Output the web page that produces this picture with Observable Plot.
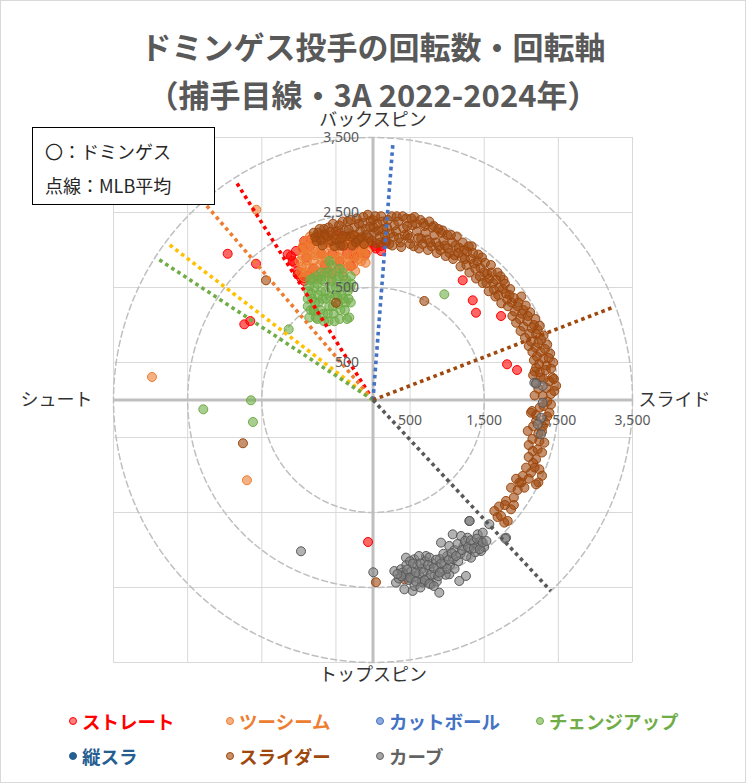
<!DOCTYPE html>
<html>
<head>
<meta charset="utf-8">
<script src="https://cdn.jsdelivr.net/npm/d3@7"></script>
<script src="https://cdn.jsdelivr.net/npm/@observablehq/plot@0.6"></script>
<style>
  html, body { margin: 0; padding: 0; background: #fff; }
  body { position: relative; width: 746px; height: 783px; overflow: hidden;
         font-family: "Noto Sans CJK JP", "Noto Sans", sans-serif; }
  #frame { position: absolute; left: 0; top: 0; width: 746px; height: 783px;
           box-sizing: border-box; border: 1px solid #d9d9d9; pointer-events: none; }
  .title { position: absolute; left: 0; width: 746px; text-align: center; color: #595959;
           font-weight: bold; font-size: 31px; line-height: 32px; white-space: nowrap; }
  #chart { position: absolute; left: 0; top: 108px; }
  #note { position: absolute; left: 32px; top: 127px; width: 183px; height: 78px;
          box-sizing: border-box; border: 1px solid #000; background: #fff; }
  #note div { position: absolute; left: 12px; font-size: 18px; line-height: 22px; color: #262626; white-space: nowrap; }
  .leg { position: absolute; display: flex; align-items: center; white-space: nowrap;
         font-weight: bold; font-size: 18.5px; line-height: 22px; }
  .leg span.m { display: inline-block; width: 8px; height: 8px; border-radius: 50%;
                box-sizing: border-box; border: 1px solid; margin-right: 5px; }
</style>
</head>
<body>
<div class="title" style="top:30px">ドミンゲス投手の回転数・回転軸</div>
<div class="title" style="top:78px">（捕手目線・3A 2022-2024年）</div>
<div id="chart"></div>
<div id="note">
  <div style="top:12px">〇：ドミンゲス</div>
  <div style="top:46px">点線：MLB平均</div>
</div>
<div id="legend"></div>
<div id="frame"></div>
<script>
// ---------- data (spin rate components, catcher's view) ----------
const gridVals = [-3500, -2500, -1500, -500, 500, 1500, 2500, 3500];
const tickVals = [500, 1500, 2500, 3500];
const ringRadii = [1500, 2500, 3500];

const pitchNames = ["ストレート", "ツーシーム", "カットボール", "チェンジアップ", "縦スラ", "スライダー", "カーブ"];
const pitchColors = ["#ff0000", "#ed7d31", "#4472c4", "#70ad47", "#255e91", "#9e480e", "#636363"];

// MLB average spin axis endpoints (dotted lines)
const avgNames = ["ストレート", "ツーシーム", "(黄)", "チェンジアップ", "カットボール", "スライダー", "カーブ"];
const avgX = [-1846, -2251, -2776, -2898, 270, 3248, 2399];
const avgY = [2907, 2600, 2093, 1880, 3440, 1240, -2547];
const avgColors = ["#ff0000", "#ed7d31", "#ffc000", "#70ad47", "#4472c4", "#9e480e", "#595959"];

const straight = [
  [-927,2120],[-948,2030],[-1039,1987],[-1106,1920],[-1061,1830],[-1016,1720],[-971,1630],[-927,1587],
  [-881,1653],[-836,2142],[-657,2209],[-409,2186],[-297,2075],[-162,2053],[-162,1964],[18,2053],[108,2053],
  [175,2097],[-1151,1942],[-1083,1853],[-1016,1676],[-927,1630],[-297,1786],[-256,1942],[40,2020],[108,1987],
  [-900,1900],[-850,2050],[-800,1750],[-750,2150],[-700,1950],[-650,1800],[-600,2100],[-550,1950],[-500,2200],
  [-450,1850],[-400,2050],[-350,1950],[-300,2150],[-250,1900],[-200,2050],[-150,2150],[-100,1950],[-50,2100],
  [-1960,1950],[-1578,1817],[-1736,1009],[-1655,1053],[1210,1596],[1345,1329],[1389,1164],[1727,1120],
  [1808,476],[1943,400],[-67,-1893]
];
const twoSeam = [
  [-980,1700],[-990,1850],[-970,2000],[-930,1640],[-920,2120],[-900,1780],[-880,1950],[-850,2180],[-830,1620],
  [-800,1850],[-790,2060],[-760,1720],[-740,1960],[-720,2190],[-700,1650],[-680,1850],[-660,2080],[-620,1750],
  [-600,1950],[-580,2190],[-550,1700],[-530,1870],[-500,2050],[-470,1800],[-450,2180],[-420,1950],[-400,1750],
  [-380,2100],[-340,1880],[-320,2000],[-300,2200],[-270,1800],[-250,2080],[-220,1950],[-180,2150],[-160,1850],
  [-130,2030],[-110,1920],[-90,2100],
  [-960,1780],[-950,1920],[-940,2060],[-910,1700],[-890,1860],[-870,2030],[-860,1680],[-840,1940],[-820,2100],
  [-810,1760],[-780,1930],[-770,2150],[-740,1620],[-720,1800],[-710,2040],[-690,1940],[-650,1700],[-640,1900],
  [-630,2150],[-600,1820],[-570,2050],[-560,1620],[-520,1960],[-510,2140],[-490,1720],[-460,1900],[-430,2080],
  [-400,1650],[-380,1850],[-350,2170],[-330,1780],[-310,2080],[-280,1920],[-240,1720],[-230,2180],[-200,1880],
  [-190,2030],[-150,1980],[-120,2150],[-100,1830],[-80,1980],
  [-1574,2537],[-2981,307],[-1700,-1070]
];
const change = [
  [-880,1250],[-870,1450],[-860,1100],[-850,1600],[-820,1350],[-800,1200],[-790,1500],[-760,1650],[-750,1080],
  [-730,1300],[-700,1450],[-690,1700],[-670,1150],[-650,1580],[-630,1350],[-600,1050],[-590,1250],[-570,1500],
  [-560,1680],[-530,1150],[-510,1400],[-490,1600],[-470,1280],[-450,1080],[-430,1500],[-410,1700],[-400,1350],
  [-380,1200],[-360,1600],[-340,1450],[-320,1100],[-300,1300],[-290,1550],
  [-880,1350],[-860,1520],[-840,1200],[-830,1420],[-810,1620],[-780,1300],[-770,1100],[-750,1550],[-740,1400],
  [-710,1200],[-700,1600],[-680,1350],[-660,1050],[-640,1450],[-620,1700],[-610,1150],[-580,1380],[-560,1580],
  [-540,1250],[-520,1050],[-500,1500],[-480,1380],[-460,1650],[-440,1200],[-420,1400],[-390,1550],[-370,1300],
  [-350,1080],[-330,1350],[-310,1500],[-300,1650],[-560,1800],[-450,1750],
  [-589,1853],[-796,1187],
  [-1137,942],[-1646,-4],[-2289,-124],[-1619,-293],[962,1409]
];
const slider = [
  [-800,2230],[-760,2120],[-720,2280],[-680,2060],[-650,2200],[-600,2300],[-560,2120],[-520,2050],[-500,2250],
  [-460,2330],[-430,2150],[-400,2060],[-380,2260],[-340,2380],[-300,2180],[-280,2060],[-250,2300],[-220,2420],
  [-200,2140],[-170,2250],[-140,2360],[-120,2080],[-90,2200],[-70,2470],[-40,2310],[-20,2120],[0,2400],[20,2230],
  [40,2090],[60,2350],[90,2180],[110,2450],[140,2280],[170,2120],[200,2400],[230,2220],[260,2060],[290,2330],
  [320,2450],[350,2160],[380,2040],[410,2290],[450,2420],[470,2200],[500,2080],[530,2330],[560,2440],[590,2250],
  [620,2020],[650,2150],[680,2360],[710,2230],[740,2000],[770,2100],[800,2300],[830,2200],[860,1960],[890,2050],
  [920,2230],[950,2130],[980,1920],[1010,2020],[1050,2200],[1080,1880],[1110,2060],[1150,1960],[1180,1780],
  [1210,2100],[1240,1880],[1270,1980],[1300,1700],[1330,2050],[1360,1820],[1390,1620],[1420,1940],[1450,1760],
  [1480,1560],[1510,1830],[1540,1680],[1560,1450],[1590,1800],[1620,1560],[1650,1380],[1680,1700],[1700,1500],
  [1730,1290],[1760,1600],[1790,1420],[1850,1480],[1820,1250],[1900,1360],[1880,1120],[1950,1250],[1930,1030],
  [2000,1380],[2010,1150],[2060,1260],[1990,920],[2080,1050],[2120,1170],[2050,830],[2140,960],[2190,1080],
  [2100,720],[2200,880],[2250,990],[2150,640],[2230,760],[2300,860],[2170,530],[2260,640],[2350,740],[2200,430],
  [2300,550],[2390,620],[2160,330],[2250,370],[2340,460],[2430,500],[2200,230],[2300,280],[2420,300],[2470,190],
  [2446,120],[2289,53],[2379,-169],[2131,-169],[2087,-413],[2244,-547],[2311,-569],[2154,-680],[2199,-791],
  [2244,-924],[2064,-902],[2131,-969],[2019,-1013],[1974,-1102],[2042,-1169],[1862,-1169],[2199,-1124],
  [1794,-1346],[1862,-1457],[1637,-1480],[1727,-1546],[1771,-1635],[1817,-1613],[2350,-20],[2250,-100],
  [2400,-60],[2200,-280],[2320,-300],[2280,-420],[2150,-520],[2220,-660],[2100,-760],[2160,-840],[2280,-1010],
  [1950,-1200],[1900,-1300],[1700,-1420],[2145,-147],
  [-780,2170],[-740,2230],[-700,2130],[-660,2280],[-620,2180],[-580,2240],[-540,2350],[-500,2140],[-470,2260],
  [-440,2060],[-410,2380],[-370,2180],[-330,2270],[-300,2400],[-260,2200],[-230,2100],[-190,2350],[-160,2170],
  [-130,2440],[-100,2280],[-60,2160],[-30,2390],[10,2300],[30,2450],
  [70,2260],[100,2100],[130,2380],[160,2200],[190,2300],[220,2080],[250,2450],[280,2180],[310,2250],[340,2380],
  [370,2100],[400,2450],[430,2200],[460,2320],[490,2160],[520,2420],[550,2050],[580,2350],[610,2160],[640,2400],
  [670,2080],[700,2320],[730,2140],[760,2380],[790,2050],[820,2320],[850,2100],[880,2280],[910,2000],
  [940,2260],[970,2060],[1000,2200],[1030,1960],[1070,2100],[1100,1930],[1130,2180],[1160,2030],[1200,1900],
  [1230,2000],[1260,1800],[1290,2050],[1320,1880],[1350,1960],[1380,1750],[1410,1850],[1440,1650],[1470,1900],
  [1500,1700],[1530,1560],[1570,1620],[1600,1700],[1630,1470],[1660,1600],[1690,1400],[1720,1650],[1750,1480],
  [1780,1550],[1810,1340],
  [1840,1400],[1870,1300],[1910,1180],[1960,1300],[1980,1080],[2030,1200],[2030,980],[2090,1120],[2110,880],
  [2170,1000],[2130,780],[2220,940],[2190,700],[2270,800],[2210,580],[2320,680],[2240,480],[2370,560],[2180,380],
  [2330,400],[2400,420],[2260,300],[2380,250],[2440,280],[2230,150],[2340,160],[2400,80],[2180,60],[2300,-80],
  [2200,-200],[2350,-220],[2160,-350],[2290,-350],[2230,-450],[2100,-600],[2280,-700],[2180,-900],[2100,-1050],
  [2230,-1100],[2000,-1100],[1930,-1050],[1900,-1400],[1780,-1400],[1680,-1560],
  [-1443,1596],[-499,1297],[692,1320],[-1754,-577],[40,-2430],[423,-2390]
];
const curve = [
  [288,-2280],[310,-2435],[423,-2524],[535,-2546],[445,-2102],[557,-2124],[715,-2080],[917,-1902],[1029,-1946],
  [1075,-1791],[1187,-1813],[1277,-1836],[1299,-1613],[1412,-1791],[1480,-1769],[1457,-2013],[1322,-2102],
  [1164,-2413],[1254,-2346],[894,-2569],[782,-2457],[670,-2435],[1029,-2324],[378,-2257],[468,-2368],[1569,-1657],
  [1794,-1836],
  [400,-2300],[450,-2200],[480,-2400],[520,-2280],[560,-2350],[600,-2200],[620,-2320],[660,-2250],[700,-2150],
  [720,-2380],[760,-2260],[800,-2180],[830,-2330],[870,-2220],[900,-2120],[930,-2280],[960,-2190],[1000,-2080],
  [1040,-2200],[1080,-2120],[1100,-2000],[1150,-2150],[1180,-2050],[1220,-1950],[1260,-2080],[1300,-1980],
  [1350,-1900],[1380,-2030],[1420,-1940],[1460,-1880],[1500,-1960],[350,-2380],[560,-2480],[660,-2420],
  [860,-2420],[980,-2330],[760,-2100],[620,-2080],[500,-2150],
  [420,-2330],[460,-2260],[500,-2370],[540,-2180],[580,-2300],[640,-2180],[680,-2300],[700,-2400],[740,-2200],
  [780,-2330],[820,-2240],[850,-2130],[880,-2350],[920,-2180],[950,-2050],[1000,-2250],[1020,-2130],[1060,-2040],
  [1120,-2080],[1140,-1920],[1200,-2000],[1240,-1880],[1280,-1960],[1320,-1870],[1360,-1980],[1400,-1850],
  [1440,-1990],[1480,-1900],[1530,-1880],[580,-2420],[760,-2450],[900,-2300],[1100,-2250],[380,-2350],
  [330,-2320],[640,-2500],[820,-2480],
  [-971,-2017],[4,-2297],[1304,-1613],[1785,-1849],
  [2176,231],[2289,187],[2289,-36],[2266,-236],[2222,-324],[2266,-457],[2199,218]
];

// ---------- chart ----------
const ringPts = ringRadii.flatMap(r => d3.range(0, 361, 1).map(a => ({
  r, x: r * Math.cos(a * Math.PI / 180), y: r * Math.sin(a * Math.PI / 180)
})));

const dotOpts = (color, stroke) => ({
  x: d => d[0], y: d => d[1], r: 4.5, fill: color, fillOpacity: 0.6,
  stroke: stroke || color, strokeWidth: 1
});

const avgMarks = avgX.map((_, i) => Plot.link([i], {
  x1: () => 0, y1: () => 0, x2: j => avgX[j], y2: j => avgY[j],
  stroke: avgColors[i], strokeWidth: 3.6, strokeDasharray: "3.6,3.6", strokeLinecap: "butt"
}));

const fmt = d3.format(",");
const chart = Plot.plot({
  width: 746, height: 587,
  marginLeft: 113, marginRight: 114, marginTop: 29, marginBottom: 33,
  x: {domain: [-3500, 3500], axis: null},
  y: {domain: [-3500, 3500], axis: null},
  style: {fontFamily: "'Noto Sans CJK JP', 'Noto Sans', sans-serif", background: "transparent", overflow: "visible"},
  marks: [
    Plot.ruleX(gridVals, {stroke: "#d9d9d9", strokeWidth: 1}),
    Plot.ruleY(gridVals, {stroke: "#d9d9d9", strokeWidth: 1}),
    Plot.line(ringPts, {x: "x", y: "y", z: "r", stroke: "#bfbfbf", strokeWidth: 1.5, strokeDasharray: "6,3.5"}),
    Plot.ruleX([0], {stroke: "#bfbfbf", strokeWidth: 3}),
    Plot.ruleY([0], {stroke: "#bfbfbf", strokeWidth: 3}),
    Plot.text(tickVals, {x: d => d, y: () => 0, dy: 21, text: d => fmt(d), fill: "#595959", fontSize: 14, fontFamily: "'Noto Sans', sans-serif"}),
    Plot.dot(straight, dotOpts("#ff0000")),
    Plot.dot(twoSeam, dotOpts("#ed7d31")),
    Plot.dot(change, dotOpts("#70ad47")),
    Plot.dot(slider, dotOpts("#9e480e")),
    Plot.dot(curve, dotOpts("#7f7f7f", "#595959")),
    ...avgMarks,
    Plot.text(tickVals, {x: () => 0, y: d => d, dx: -14, textAnchor: "end", text: d => fmt(d), fill: "#595959", fontSize: 14, fontFamily: "'Noto Sans', sans-serif"}),
    Plot.text(["バックスピン"], {frameAnchor: "top", lineAnchor: "middle", dy: -17, text: d => d, fontSize: 18, fill: "#333"}),
    Plot.text(["トップスピン"], {frameAnchor: "bottom", lineAnchor: "middle", dy: 13, text: d => d, fontSize: 18, fill: "#333"}),
    Plot.text(["スライド"], {x: () => 3500, y: () => 0, dx: 6, textAnchor: "start", text: d => d, fontSize: 18, fill: "#333"}),
    Plot.text(["シュート"], {x: () => -3500, y: () => 0, dx: -21, textAnchor: "end", text: d => d, fontSize: 18, fill: "#333"})
  ]
});
document.getElementById("chart").appendChild(chart);

// ---------- legend ----------
const legFill = ["#ff7f7f", "#f4b183", "#8faadc", "#a9d08e", "#255e91", "#c5906a", "#a5a5a5"];
const legPos = [[69, 710], [226, 710], [376, 710], [536, 710], [69, 745], [226, 745], [376, 745]];
const legend = document.getElementById("legend");
pitchNames.forEach((name, i) => {
  const el = document.createElement("div");
  el.className = "leg";
  el.style.left = legPos[i][0] + "px";
  el.style.top = legPos[i][1] + "px";
  el.style.color = pitchColors[i];
  const m = document.createElement("span");
  m.className = "m";
  m.style.background = legFill[i];
  m.style.borderColor = pitchColors[i];
  el.appendChild(m);
  el.appendChild(document.createTextNode(name));
  legend.appendChild(el);
});
</script>
</body>
</html>
